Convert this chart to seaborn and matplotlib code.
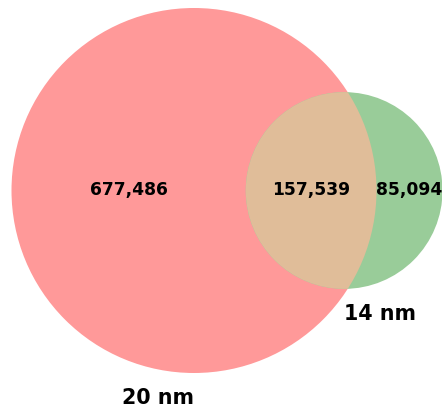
import numpy as np
import matplotlib
matplotlib.use("Agg")
import matplotlib.pyplot as plt
from matplotlib.patches import Circle
import seaborn as sns

# Set sizes for the two samples
set_labels = ["20 nm", "14 nm"]
only_a = 677486
only_b = 85094
both = 157539

sns.set_theme(style="white")
plt.rcParams["font.family"] = ["DejaVu Sans"]

col_a = np.array([1.0, 0.0, 0.0])
col_b = np.array([0.0, 0.5, 0.0])
alpha = 0.4


def on_white(c):
    c = np.minimum(c, 1.0)
    return tuple(1 - alpha + alpha * c)


col_ab = 0.7 * (col_a + col_b)


def lens_area(r1, r2, d):
    if d >= r1 + r2:
        return 0.0
    if d <= abs(r1 - r2):
        return np.pi * min(r1, r2) ** 2
    a1 = r1 ** 2 * np.arccos((d ** 2 + r1 ** 2 - r2 ** 2) / (2 * d * r1))
    a2 = r2 ** 2 * np.arccos((d ** 2 + r2 ** 2 - r1 ** 2) / (2 * d * r2))
    a3 = 0.5 * np.sqrt((-d + r1 + r2) * (d + r1 - r2) * (d - r1 + r2) * (d + r1 + r2))
    return a1 + a2 - a3


# Area-proportional circles (in units of counts), then scaled to pixels
ra = np.sqrt((only_a + both) / np.pi)
rb = np.sqrt((only_b + both) / np.pi)
lo, hi = abs(ra - rb), ra + rb
for _ in range(200):
    mid = 0.5 * (lo + hi)
    if lens_area(ra, rb, mid) > both:
        lo = mid
    else:
        hi = mid
dist = 0.5 * (lo + hi)

scale = 182.5 / ra
Ra, Rb, D = ra * scale, rb * scale, dist * scale
cx_a, cy = 194.0, 190.5
cx_b = cx_a + D

fig = plt.figure(figsize=(4.42, 4.09), dpi=100)
ax = fig.add_axes([0, 0, 1, 1])
ax.set_xlim(0, 442)
ax.set_ylim(409, 0)
ax.set_aspect("equal")
ax.axis("off")

circ_a = Circle((cx_a, cy), Ra, facecolor=on_white(col_a), edgecolor="none")
circ_b = Circle((cx_b, cy), Rb, facecolor=on_white(col_b), edgecolor="none")
ax.add_patch(circ_a)
ax.add_patch(circ_b)
lens = Circle((cx_b, cy), Rb, facecolor=on_white(col_ab), edgecolor="none")
ax.add_patch(lens)
clip = Circle((cx_a, cy), Ra, transform=ax.transData)
lens.set_clip_path(clip)

# Region labels at the midpoints of each region along the centre line
left_a = cx_a - Ra
right_a = cx_a + Ra
left_b = cx_b - Rb
right_b = cx_b + Rb
fs = 12.3
ax.text((left_a + left_b) / 2, cy, f"{only_a:,}", ha="center", va="center",
        fontsize=fs, fontweight="bold", color="black")
ax.text((left_b + right_a) / 2, cy, f"{both:,}", ha="center", va="center",
        fontsize=fs, fontweight="bold", color="black")
ax.text((right_a + right_b) / 2, cy, f"{only_b:,}", ha="center", va="center",
        fontsize=fs, fontweight="bold", color="black")

# Set labels below each circle
ax.text(cx_a, cy + Ra + 31, set_labels[0], ha="right", va="baseline",
        fontsize=14.9, fontweight="bold", color="black")
ax.text(cx_b, cy + Rb + 31.5, set_labels[1], ha="left", va="baseline",
        fontsize=14.9, fontweight="bold", color="black")

fig.savefig("out.png", dpi=100)
